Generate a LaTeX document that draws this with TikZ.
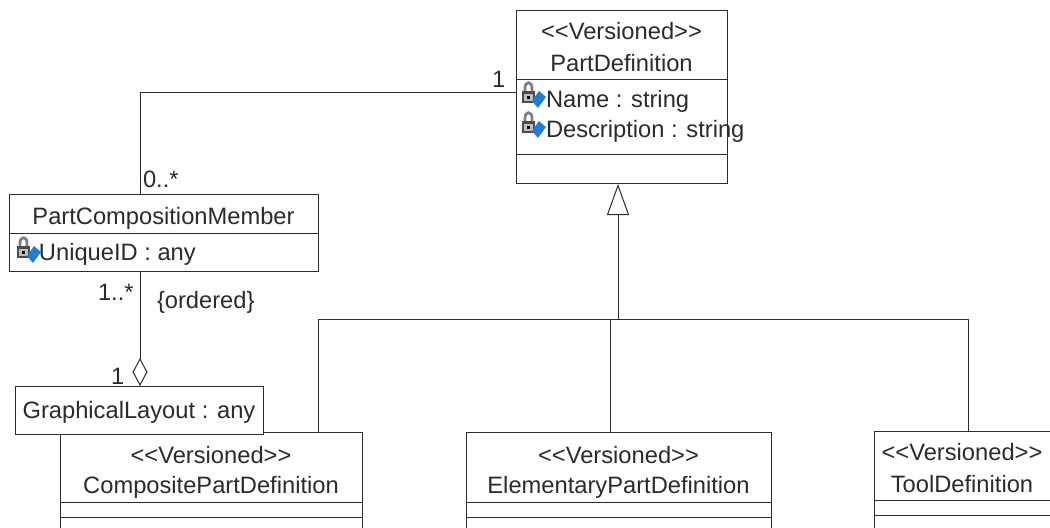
\documentclass[tikz,border=0pt]{standalone}
\usepackage{fontspec}
\setmainfont{Liberation Sans}
\usetikzlibrary{ arrows.meta, % For open triangle and diamond tips
               }
\definecolor{inkgray}{HTML}{2B2B2B}
\definecolor{lockblue}{HTML}{1F7FD8}
\newcommand{\stereotype}[1]{\rule{0pt}{#1}<{}<Versioned>{}>}
\tikzset{
  compartment/.style={draw=inkgray, fill=white, line width=0.5pt, inner sep=0pt, outer sep=0pt,
                      align=center, text=inkgray},
  umltext/.style={font=\fontsize{11.85}{15}\selectfont, text=inkgray, inner sep=0pt, outer sep=0pt},
  connector/.style={draw=inkgray, line width=0.5pt},
  lockicon/.pic={
    \draw[black!50, line width=1.4pt] (-7,-1) -- (-7,-5) .. controls (-7,-12) and (0,-12) .. (0,-5) -- (0,-1);
    \fill[black!70] (-10,-2) rectangle (3,10);
    \fill[black!25] (-8,1) rectangle (1,8);
    \fill[black] (-5,3) rectangle (-2,6);
    \fill[lockblue] (0,8) -- (7,-2) -- (14,4) -- (6,15) -- cycle;
  },
}
\begin{document}
\begin{tikzpicture}[x=0.5pt, y=-0.5pt]
    \useasboundingbox (0,0) rectangle (1050,527);
    \clip (0,0) rectangle (1050,527);

    \node[compartment, umltext, minimum width=105.5pt, minimum height=34.5pt] (pdhead) at (621.5,44.5)
        {\stereotype{11pt}\\[1pt]PartDefinition};
    \node[compartment, minimum width=105.5pt, minimum height=37.5pt] (pdattr) at (621.5,116.5) {};
    \node[compartment, minimum width=105.5pt, minimum height=14.5pt] (pdops) at (621.5,168.5) {};
    \node[umltext, anchor=base west] (pdname) at (546,107) {Name : string};
    \node[umltext, anchor=base west] (pddesc) at (546,137) {Description : string};
    \pic at (532,93) {lockicon};
    \pic at (532,123) {lockicon};

    \node[compartment, umltext, minimum width=154.5pt, minimum height=19.5pt] (pcmhead) at (163.5,213.5)
        {\rule{0pt}{13.5pt}PartCompositionMember};
    \node[compartment, minimum width=154.5pt, minimum height=19pt] (pcmattr) at (163.5,252) {};
    \node[umltext, anchor=base west] (pcmid) at (39,260) {UniqueID : any};
    \pic at (27,248) {lockicon};

    \node[compartment, umltext, minimum width=151pt, minimum height=35pt] (cpdhead) at (211,467)
        {\stereotype{14pt}\\CompositePartDefinition};
    \node[compartment, minimum width=151pt, minimum height=7.5pt] (cpdattr) at (211,509.5) {};
    \node[compartment, minimum width=151pt, minimum height=15pt] (cpdops) at (211,532) {};

    \node[compartment, umltext, minimum width=124pt, minimum height=24pt] (layout) at (139,410)
        {\rule{0pt}{10.5pt}GraphicalLayout : any};

    \node[compartment, umltext, minimum width=152.5pt, minimum height=35pt] (epdhead) at (618.5,467)
        {\stereotype{14pt}\\ElementaryPartDefinition};
    \node[compartment, minimum width=152.5pt, minimum height=7.5pt] (epdattr) at (618.5,509.5) {};
    \node[compartment, minimum width=152.5pt, minimum height=15pt] (epdops) at (618.5,532) {};

    \node[compartment, umltext, minimum width=88pt, minimum height=34.5pt] (tdhead) at (962,465.5)
        {\stereotype{11pt}\\[1pt]ToolDefinition};
    \node[compartment, minimum width=88pt, minimum height=7.5pt] (tdattr) at (962,507.5) {};
    \node[compartment, minimum width=88pt, minimum height=15pt] (tdops) at (962,530) {};

    \coordinate (assocpd) at (516,92);
    \coordinate (assocpcm) at (140,194);
    \coordinate (aggrtop) at (140,271);
    \coordinate (aggrtip) at (140,386);
    \coordinate (gentip) at (618,184);
    \coordinate (genhub) at (618,319);
    \coordinate (dropcpd) at (318,432);
    \coordinate (dropepd) at (610,432);
    \coordinate (droptd) at (968,431);

    \draw[connector] (assocpd) -| (assocpcm);
    \draw[connector, -{Diamond[open, length=14pt, width=7.5pt]}] (aggrtop) -- (aggrtip);
    \draw[connector, -{Triangle[open, length=15.5pt, width=11pt]}] (genhub) -- (gentip);
    \draw[connector] (dropcpd) |- (genhub);
    \draw[connector] (droptd) |- (genhub);
    \draw[connector] (dropepd) -- (dropepd |- genhub);

    \node[umltext, anchor=base west] (multpd) at (492,87) {1};
    \node[umltext, anchor=base west] (multpcm) at (143,187) {0..*};
    \node[umltext, anchor=base west] (multpart) at (98,300) {1..*};
    \node[umltext, anchor=base west] (ordered) at (157,308) {\{ordered\}};
    \node[umltext, anchor=base west] (multlayout) at (111,384) {1};
  \end{tikzpicture}
\end{document}
